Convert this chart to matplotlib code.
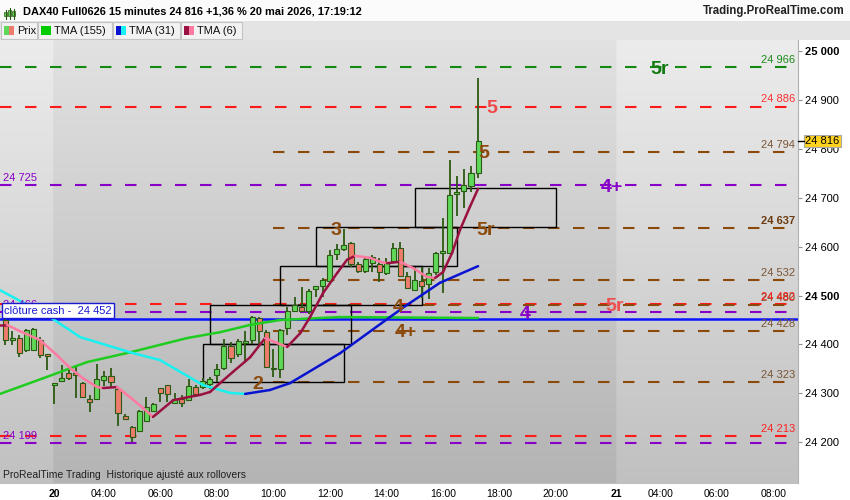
import numpy as np
import matplotlib.pyplot as plt
import matplotlib.transforms as mtransforms
from matplotlib.patches import Rectangle
from matplotlib.collections import LineCollection

plt.rcParams['font.family'] = ['Liberation Sans', 'DejaVu Sans']

# 15 minute candles of 20 mai, first bar at 00:30 on the time scale (hours)
opens = [24450, 24409, 24413, 24389, 24389, 24409, 24380, 24317, 24325, 24342,
         24342, 24321, 24288, 24288, 24327, 24335, 24309, 24254, 24231, 24223,
         24243, 24264, 24311, 24317, 24280, 24288, 24286, 24313, 24313, 24319,
         24337, 24352, 24397, 24380, 24403, 24409, 24454, 24425, 24349, 24350,
         24434, 24468, 24476, 24468, 24513, 24519, 24530, 24585, 24595, 24607,
         24564, 24550, 24566, 24564, 24546, 24571, 24597, 24540, 24511, 24530,
         24524, 24548, 24587, 24587, 24708, 24714, 24724, 24751]
highs = [24460, 24427, 24420, 24432, 24434, 24415, 24381, 24322, 24358, 24352,
         24358, 24323, 24297, 24360, 24346, 24352, 24313, 24258, 24233, 24266,
         24292, 24280, 24311, 24317, 24301, 24297, 24329, 24317, 24331, 24333,
         24360, 24411, 24405, 24411, 24427, 24458, 24456, 24429, 24391, 24431,
         24476, 24497, 24517, 24513, 24519, 24536, 24593, 24605, 24636, 24609,
         24569, 24577, 24583, 24577, 24577, 24607, 24609, 24548, 24558, 24558,
         24556, 24589, 24658, 24777, 24744, 24759, 24765, 24945]
lows = [24399, 24399, 24375, 24385, 24386, 24373, 24348, 24278, 24324, 24327,
        24290, 24290, 24262, 24286, 24316, 24313, 24233, 24247, 24200, 24221,
        24243, 24262, 24282, 24282, 24280, 24272, 24286, 24297, 24309, 24309,
        24323, 24348, 24362, 24375, 24362, 24401, 24395, 24352, 24333, 24331,
        24420, 24466, 24468, 24462, 24497, 24497, 24526, 24573, 24591, 24558,
        24546, 24546, 24548, 24528, 24542, 24569, 24538, 24515, 24511, 24495,
        24493, 24542, 24505, 24585, 24663, 24679, 24712, 24740]
closes = [24409, 24413, 24382, 24429, 24431, 24378, 24376, 24321, 24331, 24331,
          24337, 24292, 24282, 24329, 24335, 24323, 24260, 24247, 24211, 24264,
          24272, 24278, 24301, 24299, 24288, 24280, 24315, 24299, 24325, 24329,
          24350, 24397, 24372, 24407, 24407, 24456, 24427, 24354, 24351, 24429,
          24468, 24481, 24468, 24509, 24519, 24532, 24583, 24595, 24603, 24564,
          24550, 24575, 24579, 24548, 24569, 24597, 24540, 24515, 24532, 24519,
          24546, 24587, 24589, 24706, 24712, 24726, 24751, 24816]
times = 0.5 + 0.25 * np.arange(len(opens))

# moving averages (hour, price)
tma155_t = [0.32, 1.85, 3.40, 4.93, 6.94, 8.11, 9.18, 10.24, 12.36, 17.25]
tma155_p = [24299, 24331, 24364, 24384, 24413, 24425, 24440, 24450, 24456, 24454]

tma31_t = [0.32, 2.09, 3.16, 4.93, 5.99, 7.51, 8.47, 9.00, 9.88, 10.59, 12.36,
           14.13, 14.74, 15.90, 17.25]
tma31_p = [24511, 24456, 24415, 24384, 24368, 24317, 24301, 24299, 24307, 24321,
           24382, 24456, 24481, 24526, 24560]

tma6_t = [0.32, 0.57, 1.03, 1.74, 2.34, 2.80, 3.26, 3.76, 3.97, 4.47, 4.93, 5.39,
          5.74, 6.45, 6.94, 7.41, 7.76, 8.11, 8.57, 9.18, 9.71, 10.13, 10.49,
          10.95, 11.30, 11.76, 12.26, 12.61, 12.89, 13.43, 13.78, 14.03, 14.49,
          14.95, 15.44, 15.73, 16.01, 16.33, 16.61, 16.96, 17.25]
tma6_p = [24440, 24440, 24427, 24409, 24378, 24352, 24331, 24313, 24311, 24313,
          24292, 24270, 24252, 24286, 24292, 24297, 24303, 24321, 24344, 24374,
          24413, 24403, 24395, 24423, 24456, 24505, 24546, 24573, 24581, 24577,
          24569, 24566, 24569, 24556, 24538, 24536, 24548, 24587, 24634, 24681,
          24718]

# horizontal levels
full_levels = [24966, 24886, 24725, 24482, 24466, 24213, 24199]
full_colors = ['#128a12', '#ff1a1a', '#8800c8', '#ff1a1a', '#8800c8', '#ff1a1a', '#8800c8']
brown_levels = [24794, 24637, 24532, 24480, 24428, 24323]
cash_close = 24452
last_price = 24816

right_labels = [24966, 24886, 24794, 24637, 24532, 24480, 24482, 24428, 24323, 24213]
right_colors = ['#1a8a1a', '#ff3030', '#7a5535', '#6b3a10', '#7a5535', '#7a4a1a',
                '#ff2020', '#7a5535', '#7a5535', '#ff2020']
left_labels = [24725, 24466, 24199]

# boxes (start hour, bottom, top), 5 hours wide
box_start = [7.5, 7.75, 10.25, 11.5, 15.0]
box_bottom = [24323, 24401, 24480, 24560, 24640]
box_top = [24401, 24480, 24560, 24640, 24720]

# level tags (text, hour, price, colour)
tag_text = ['5r', '5', '5', '4+', '3', '5r', '4', '5r', '4', '4+', '2']
tag_hour = [23.69, 17.75, 17.46, 22.0, 12.22, 17.5, 14.42, 22.1, 18.91, 14.7, 9.46]
tag_price = [24966, 24886, 24794, 24725, 24637, 24637, 24480, 24482, 24466, 24428, 24323]
tag_color = ['#137a13', '#f04848', '#8b4a0b', '#8800c8', '#8b4a0b', '#8b4a0b',
             '#8b4a0b', '#ec5050', '#8800c8', '#8b4a0b', '#8b4a0b']

x_ticks = [2.25, 4, 6, 8, 10, 12, 14, 16, 18, 20, 22.15, 23.7, 25.7, 27.7]
x_labels = ['20', '04:00', '06:00', '08:00', '10:00', '12:00', '14:00', '16:00',
            '18:00', '20:00', '21', '04:00', '06:00', '08:00']
day_start, day_end = 2.2, 22.15

XMIN, XMAX = 0.32, 28.58
YMIN, YMAX = 24117, 25022

fig = plt.figure(figsize=(8.5, 5), dpi=100, facecolor='white')
ax = fig.add_axes([0, 17 / 500, 798 / 850, 443 / 500])
ax.set_xlim(XMIN, XMAX)
ax.set_ylim(YMIN, YMAX)

# background gradient, lighter outside the 20 mai session
cols = np.linspace(XMIN, XMAX, 1200)
rows = np.linspace(0, 1, 200)[:, None]
main = 0.885 - 0.18 * rows
light = 0.925 - 0.17 * rows
inside = (cols > day_start) & (cols < day_end)
bg = np.where(inside[None, :], main, light)
ax.imshow(np.dstack([bg, bg, bg]), extent=[XMIN, XMAX, YMIN, YMAX], aspect='auto',
          origin='upper', zorder=0, interpolation='bilinear')

dash = (0, (5.5, 6.5))
for lv, c in zip(full_levels, full_colors):
    ax.plot([XMIN, XMAX], [lv, lv], color=c, lw=1.5, ls=dash, zorder=1)
for lv in brown_levels:
    ax.plot([10.0, XMAX], [lv, lv], color='#8b4a0b', lw=1.5, ls=dash, zorder=1)
ax.axhline(cash_close, color='#0a14ff', lw=1.8, zorder=1)

for s, b, t in zip(box_start, box_bottom, box_top):
    ax.add_patch(Rectangle((s, b), 5.0, t - b, fill=False, edgecolor='black', lw=1.0, zorder=2))

# candles
for t, o, h, l, c in zip(times, opens, highs, lows, closes):
    ax.vlines(t, l, h, color='#2c5a12', lw=1.3, zorder=3)
    up = c >= o
    bottom = min(o, c)
    height = max(abs(c - o), 3)
    ax.bar(t, height, bottom=bottom, width=0.18, color='#5fd85a' if up else '#ee7b6c',
           edgecolor='#2c5a12', lw=0.8, zorder=3.5)


def ma_line(ts, ps, rising, falling):
    pts = np.column_stack([ts, ps])
    segs = [pts[k:k + 2] for k in range(len(pts) - 1)]
    colors = [rising if ps[k + 1] >= ps[k] else falling for k in range(len(ps) - 1)]
    ax.add_collection(LineCollection(segs, colors=colors, lw=1.8, zorder=4, capstyle='round'))


ma_line(tma155_t, tma155_p, '#1fcc1f', '#1fcc1f')
ma_line(tma31_t, tma31_p, '#0a14d0', '#19f0f0')
ma_line(tma6_t, tma6_p, '#9a1040', '#ff7aa0')

for txt, h, p, c in zip(tag_text, tag_hour, tag_price, tag_color):
    ax.text(h, p, txt, color=c, fontsize=14, fontweight='bold', ha='center',
            va='center_baseline', zorder=5)

trans = mtransforms.blended_transform_factory(ax.transAxes, ax.transData)
for lv, c in zip(right_labels, right_colors):
    ax.annotate(f'{lv:,}'.replace(',', ' '), (0.996, lv), xycoords=trans,
                xytext=(0, 1.5), textcoords='offset points', ha='right', va='bottom',
                color=c, fontsize=8, fontweight='bold' if lv == 24637 else 'normal', zorder=5)
for lv in left_labels:
    ax.annotate(f'{lv:,}'.replace(',', ' '), (0.004, lv), xycoords=trans,
                xytext=(0, 1.5), textcoords='offset points', ha='left', va='bottom',
                color='#8800c8', fontsize=8, zorder=5)

ax.annotate('clôture cash -  24 452', (0.0, cash_close), xycoords=trans,
            xytext=(3, 2.5), textcoords='offset points', ha='left', va='bottom',
            color='#1a1ad0', fontsize=8, zorder=6,
            bbox=dict(boxstyle='square,pad=0.2', fc='white', ec='#1a1ad0', lw=1))

ax.text(0.004, 0.012, 'ProRealTime Trading  Historique ajusté aux rollovers',
        transform=ax.transAxes, fontsize=7.5, color='#202020',
        family=['Liberation Sans Narrow', 'Liberation Sans'], zorder=5)

# price axis on the right
ax.yaxis.tick_right()
yt = list(range(24200, 25001, 100))
ax.set_yticks(yt)
ax.set_yticklabels([f'{v:,}'.replace(',', ' ') for v in yt], fontsize=8)
for lab, v in zip(ax.get_yticklabels(), yt):
    if v in (25000, 24500):
        lab.set_fontweight('bold')
ax.tick_params(axis='y', length=3, color='#909090', pad=2)

ax.set_xticks(x_ticks)
ax.set_xticklabels(x_labels, fontsize=7.5, family=['Liberation Sans Narrow', 'Liberation Sans'])
for lab in ax.get_xticklabels():
    if ':' not in lab.get_text():
        lab.set_fontweight('bold')
ax.tick_params(axis='x', length=0, pad=4)

for sp in ['top', 'left']:
    ax.spines[sp].set_visible(False)
ax.spines['right'].set_color('#b0b0b0')
ax.spines['bottom'].set_color('#c0c0c0')

ax.annotate(f'{last_price:,}'.replace(',', ' '), (1.0, last_price), xycoords=trans,
            xytext=(5, 0), textcoords='offset points', ha='left', va='center',
            fontsize=8, annotation_clip=False,
            bbox=dict(boxstyle='square,pad=0.12', fc='#ffd21f', ec='#a8a8a8', lw=0.8))
ax.plot([1.0, 1.008], [last_price, last_price], transform=trans, color='black',
        lw=1, clip_on=False, zorder=6)

# header: title line and legend tabs, in pixel coordinates
hd = fig.add_axes([0, 460 / 500, 1, 40 / 500])
hd.set_xlim(0, 850)
hd.set_ylim(40, 0)
hd.axis('off')
hd.add_patch(Rectangle((0, 0), 850, 21, fc='#fbfbfb', ec='none'))
hd.add_patch(Rectangle((0, 21), 850, 19, fc='#e4e4e4', ec='none'))
for x0, ht in [(6, 5), (10, 7), (14, 6)]:
    hd.plot([x0, x0], [19 - ht - 4, 19], color='#2c5a12', lw=0.8)
    hd.add_patch(Rectangle((x0 - 1.5, 19 - ht - 2), 3, ht - 1, fc='#5fd85a', ec='#2c5a12', lw=0.5))
hd.text(23, 11, 'DAX40 Full0626 15 minutes 24 816 +1,36 % 20 mai 2026, 17:19:12',
        fontsize=7.9, fontweight='bold', va='center', ha='left')
hd.text(845, 11, 'Trading.ProRealTime.com', fontsize=8.3, fontweight='bold',
        va='center', ha='right', color='#222222')

tabs = [(1, 37, 'Prix', ('#5fd85a', '#ee7b6c')),
        (38, 112, 'TMA (155)', ('#00cc00', '#00cc00')),
        (113, 180, 'TMA (31)', ('#0a14d0', '#19f0f0')),
        (181, 242, 'TMA (6)', ('#9a1040', '#ff7aa0'))]
for x0, x1, name, (c1, c2) in tabs:
    hd.add_patch(Rectangle((x0, 22), x1 - x0, 17, fc='#f2f2f2', ec='#c4c4c4', lw=0.8))
    hd.add_patch(Rectangle((x0 + 3, 26), 5, 9, fc=c1, ec='none'))
    hd.add_patch(Rectangle((x0 + 8, 26), 5, 9, fc=c2, ec='none'))
    hd.text(x0 + 16, 31, name, fontsize=8, va='center', ha='left', color='#111111')

fig.savefig('out.png', dpi=100)
